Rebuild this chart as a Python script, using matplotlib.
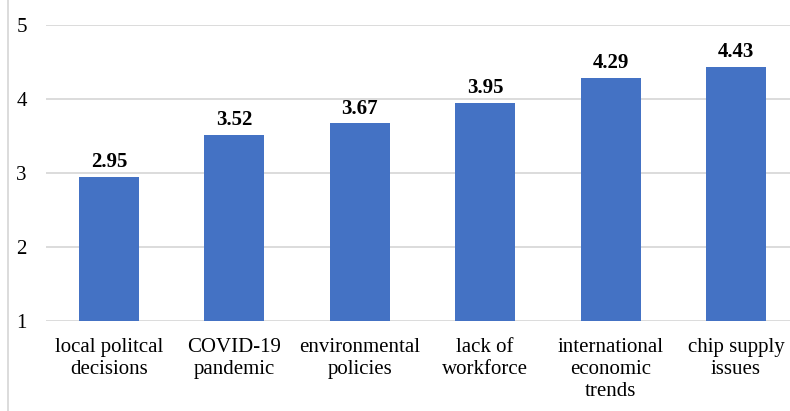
import matplotlib
matplotlib.use("Agg")
import matplotlib.pyplot as plt
from matplotlib.lines import Line2D

categories = ["local politcal\ndecisions", "COVID-19\npandemic", "environmental\npolicies",
              "lack of\nworkforce", "international\neconomic\ntrends", "chip supply\nissues"]
values = [2.95, 3.52, 3.67, 3.95, 4.29, 4.43]
yticks = [1, 2, 3, 4, 5]

plt.rcParams['font.family'] = ['Liberation Serif', 'DejaVu Serif']

W, H = 790, 411
fig = plt.figure(figsize=(W/100, H/100), dpi=100)
left_px, right_px, top_px, bottom_px = 46.3, 790, 25, 321
ax = fig.add_axes([left_px/W, 1-bottom_px/H, (right_px-left_px)/W, (bottom_px-top_px)/H])

x = list(range(len(values)))
ax.bar(x, [v-1 for v in values], bottom=1, width=0.48, color='#4472C4', zorder=3)
for xi, v in zip(x, values):
    ax.annotate(f"{v:.2f}", (xi, v), xytext=(0, 3.5), textcoords='offset points',
                ha='center', va='bottom', fontsize=15, fontweight='bold', color='black')

ax.set_xlim(-0.5, (790-109)/125.4)
ax.set_ylim(1, 5)
ax.set_yticks(yticks)
ax.set_yticklabels([str(t) for t in yticks], fontsize=15)
ax.set_xticks(x)
ax.set_xticklabels(categories, fontsize=15, linespacing=1.22)
ax.tick_params(axis='both', length=0, colors='#404040', labelcolor='black')
ax.tick_params(axis='y', pad=14)
ax.tick_params(axis='x', pad=12)
ax.grid(axis='y', color='#d9d9d9', linewidth=1.3, zorder=0)
for s in ax.spines.values():
    s.set_visible(False)

fig.add_artist(Line2D([8/W, 8/W], [0, 1], transform=fig.transFigure, color='#d9d9d9', linewidth=1.3))

fig.savefig("out.png", dpi=100)
